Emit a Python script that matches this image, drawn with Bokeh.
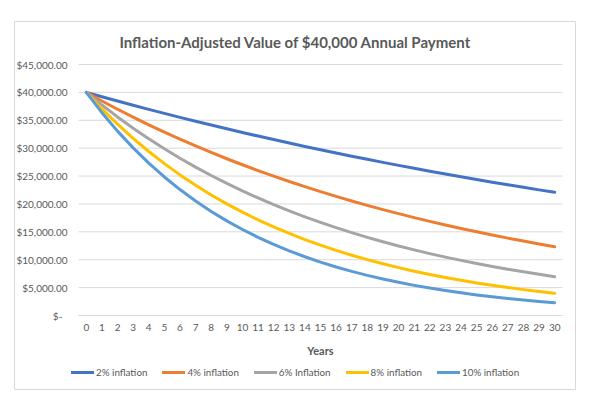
from bokeh.plotting import figure
from bokeh.models import Range1d, FixedTicker, Legend, LegendItem, Label
from bokeh.embed import file_html
from bokeh.resources import INLINE

years = list(range(31))
infl_2 = [40000, 39216, 38447, 37693, 36954, 36229, 35519, 34822, 34140, 33470, 32814,
          32170, 31540, 30921, 30315, 29721, 29138, 28566, 28006, 27457, 26919,
          26391, 25874, 25366, 24869, 24381, 23903, 23434, 22975, 22524, 22083]
infl_4 = [40000, 38462, 36982, 35560, 34192, 32877, 31613, 30397, 29228, 28104, 27023,
          25983, 24984, 24023, 23099, 22211, 21356, 20535, 19745, 18986, 18256,
          17553, 16878, 16229, 15605, 15005, 14428, 13873, 13339, 12826, 12333]
infl_6 = [40000, 37736, 35600, 33585, 31684, 29890, 28198, 26602, 25097, 23676, 22336,
          21072, 19879, 18754, 17692, 16691, 15746, 14855, 14014, 13221, 12472,
          11766, 11100, 10472, 9879, 9320, 8792, 8295, 7825, 7382, 6964]
infl_8 = [40000, 37037, 34294, 31753, 29401, 27223, 25207, 23340, 21611, 20010, 18528,
          17155, 15885, 14708, 13618, 12610, 11676, 10811, 10010, 9269, 8582,
          7946, 7358, 6813, 6308, 5841, 5408, 5008, 4637, 4293, 3975]
infl_10 = [40000, 36364, 33058, 30053, 27321, 24837, 22579, 20526, 18660, 16964, 15422,
           14020, 12745, 11587, 10533, 9576, 8705, 7914, 7194, 6540, 5946,
           5405, 4914, 4467, 4061, 3692, 3356, 3051, 2774, 2522, 2292]

series_names = ["2% inflation", "4% inflation", "6% Inflation", "8% inflation", "10% inflation"]
series_values = [infl_2, infl_4, infl_6, infl_8, infl_10]
series_colors = ["#4472C4", "#ED7D31", "#A5A5A5", "#FFC000", "#5B9BD5"]

y_ticks = [0, 5000, 10000, 15000, 20000, 25000, 30000, 35000, 40000, 45000]
y_tick_labels = ["$-\u00a0\u00a0", "$5,000.00", "$10,000.00", "$15,000.00", "$20,000.00",
                 "$25,000.00", "$30,000.00", "$35,000.00", "$40,000.00", "$45,000.00"]
title_text = "Inflation-Adjusted Value of $40,000 Annual Payment"
x_label = "Years"

FONT = "Lato"
TXT = "#595959"
GRID = "#D9D9D9"

# Layout (pixels): chart-area box 562x369; plot region inside it
CW, CH = 562, 369
PL, PR, PT, PB = 64, 548, 43, 294      # plot region edges inside chart area
x_lo, x_hi = years[0] - 0.5, years[-1] + 0.5
y_lo, y_hi = y_ticks[0], y_ticks[-1]
xs = (x_hi - x_lo) / (PR - PL)
ys = (y_hi - y_lo) / (PB - PT)
x_range = Range1d(x_lo - PL * xs, x_hi + (CW - PR) * xs)
y_range = Range1d(y_lo - (CH - PB) * ys, y_hi + PT * ys)

p = figure(width=14 + CW, height=21 + CH, output_backend="svg", toolbar_location=None,
           x_range=x_range, y_range=y_range,
           min_border_left=14, min_border_top=21, min_border_right=0, min_border_bottom=0)
p.outline_line_color = GRID
p.outline_line_width = 1
p.background_fill_color = "white"
p.border_fill_color = "white"
p.xgrid.grid_line_color = None
p.ygrid.grid_line_color = None

# horizontal gridlines across the plot region
p.segment(x0=[x_lo] * len(y_ticks), x1=[x_hi] * len(y_ticks), y0=y_ticks, y1=y_ticks,
          line_color=GRID, line_width=1)

items = []
for name, vals, col in zip(series_names, series_values, series_colors):
    r = p.line(years, vals, line_color=col, line_width=3, line_join="round", line_cap="round")
    items.append(LegendItem(label=name, renderers=[r]))

xa = p.xaxis[0]
xa.fixed_location = 0
xa.bounds = (x_lo, x_hi)
xa.ticker = FixedTicker(ticks=years)
xa.axis_line_color = GRID
xa.major_tick_line_color = None
xa.minor_tick_line_color = None
xa.major_tick_out = 0
xa.major_tick_in = 0
xa.major_label_text_font = FONT
xa.major_label_text_font_size = "10px"
xa.major_label_text_color = TXT
xa.major_label_standoff = 8
xa.axis_label = x_label
xa.axis_label_text_font = FONT
xa.axis_label_text_font_size = "11px"
xa.axis_label_text_font_style = "bold"
xa.axis_label_text_color = TXT
xa.axis_label_standoff = 10

ya = p.yaxis[0]
ya.fixed_location = x_lo
ya.ticker = FixedTicker(ticks=y_ticks)
ya.major_label_overrides = {t: l for t, l in zip(y_ticks, y_tick_labels)}
ya.axis_line_color = None
ya.major_tick_line_color = None
ya.minor_tick_line_color = None
ya.major_tick_out = 0
ya.major_tick_in = 0
ya.major_label_text_font = FONT
ya.major_label_text_font_size = "10px"
ya.major_label_text_color = TXT
ya.major_label_standoff = 11

p.add_layout(Label(x=281, y=349, x_units="screen", y_units="screen", text=title_text,
                   text_align="center", text_baseline="middle", text_font=FONT,
                   text_font_size="15px", text_font_style="bold", text_color=TXT))

legend = Legend(items=items, orientation="horizontal", location=(57, 12),
                glyph_width=23, glyph_height=12, label_height=12, label_standoff=2,
                spacing=15, padding=0, margin=0,
                label_text_font=FONT, label_text_font_size="9.8px", label_text_color=TXT,
                border_line_color=None, background_fill_alpha=0)
p.add_layout(legend, "center")

open("out.html", "w").write(file_html(p, INLINE))
